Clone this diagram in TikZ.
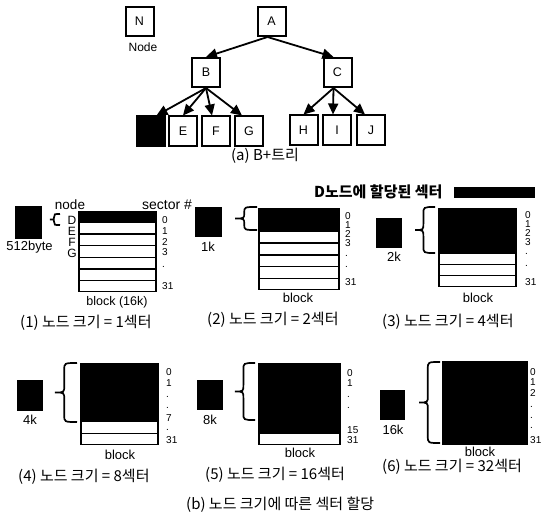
\documentclass[tikz,border=0pt]{standalone}
\usepackage{fontspec}
\setmainfont{Liberation Sans}
\newfontfamily\kr{Noto Sans CJK KR}
\usetikzlibrary{arrows.meta}
\newcommand\sectorblock[5]{%
  \fill[black] (#1,#2) rectangle (#3,#4);
  \pgfmathsetmacro\rh{(#4-#2)/7}
  \ifnum#5<7
    \foreach \i in {#5,...,6}{%
      \fill[white] ({#1+2},{#2+\i*\rh+0.7}) rectangle ({#3-2.2},{#2+(\i+1)*\rh-0.7});
    }
  \fi
}
\newcommand\curlyb[4]{%
  \pgfmathsetmacro\xm{#1+0.42*(#2-#1)}
  \pgfmathsetmacro\ym{(#3+#4)/2}
  \pgfmathsetmacro\cc{min(7,(#4-#3)/4)}
  \draw[bracestyle] (#2,#3) .. controls (\xm,#3) .. (\xm,{#3+\cc}) -- (\xm,{\ym-\cc})
    .. controls (\xm,\ym) .. (#1,\ym) .. controls (\xm,\ym) .. (\xm,{\ym+\cc})
    -- (\xm,{#4-\cc}) .. controls (\xm,#4) .. (#2,#4);
}
\begin{document}
\begin{tikzpicture}[x=1pt,y=-1pt,
  treenode/.style={draw, line width=2pt, minimum width=28pt, minimum height=29pt,
    inner sep=0pt, fill=white, font=\fontsize{12.5}{14}\selectfont},
  arr/.style={line width=1.8pt, -{Triangle[length=11pt,width=10pt]}},
  lbl/.style={inner sep=0pt, font=\fontsize{13}{15}\selectfont},
  num/.style={inner sep=0pt, anchor=west, font=\fontsize{10}{11}\selectfont},
  captxt/.style={inner sep=0pt, anchor=west, font=\kr\fontsize{15}{17}\selectfont},
  bracestyle/.style={line width=1.7pt},
  sq/.style={fill=black, draw=none, inner sep=0pt}]
\useasboundingbox (0,0) rectangle (543,524);

% ---------- (a) tree ----------
\node[treenode] (N) at (139.5,21.5) {N};
\node[lbl, font=\fontsize{12}{14}\selectfont] (nodelbl) at (143,47) {Node};
\node[treenode] (A) at (271.5,21.5) {A};
\node[treenode] (B) at (206,72.5) {B};
\node[treenode] (C) at (337.5,72.5) {C};
\node[treenode, fill=black] (D) at (150.5,131) {};
\node[treenode] (E) at (183,131) {E};
\node[treenode] (F) at (216,131) {F};
\node[treenode] (G) at (249,131) {G};
\node[treenode] (H) at (303.5,130) {H};
\node[treenode] (I) at (337,130) {I};
\node[treenode] (J) at (371,130) {J};
\draw[arr] ([xshift=-4pt]A.south) -- (B.north);
\draw[arr] ([xshift=-4pt]A.south) -- ([xshift=-4pt]C.north);
\draw[arr] (B.south) -- ([xshift=6pt]D.north);
\draw[arr] (B.south) -- (E.north);
\draw[arr] (B.south) -- ([xshift=-4pt]F.north);
\draw[arr] (B.south) -- ([xshift=-7pt]G.north);
\draw[arr] ([xshift=-4pt]C.south) -- (H.north);
\draw[arr] ([xshift=-4pt]C.south) -- ([xshift=-4pt]I.north);
\draw[arr] ([xshift=-4pt]C.south) -- ([xshift=-6pt]J.north);
\node[captxt, anchor=center] (capa) at (265,156) {(a) B+트리};

% ---------- legend ----------
\node[captxt, font=\kr\bfseries\fontsize{15}{17}\selectfont] (legend) at (314,192) {D노드에 할당된 섹터};
\fill[black] (454,187) rectangle (535,198);

% ---------- (1) ----------
\node[sq, minimum width=27pt, minimum height=33pt] (s1) at (28.5,222.5) {};
\node[lbl] (l1) at (29.5,247) {512byte};
\node[lbl, font=\fontsize{13.5}{15}\selectfont] (nodehdr) at (70,205) {node};
\node[lbl, anchor=west, font=\fontsize{14}{15}\selectfont] (sechdr) at (142,205) {sector \#};
\curlyb{50}{60}{214}{225}
\node[lbl, font=\fontsize{12}{13}\selectfont] (ld) at (72,220) {D};
\node[lbl, font=\fontsize{12}{13}\selectfont] (le) at (72,231) {E};
\node[lbl, font=\fontsize{12}{13}\selectfont] (lf) at (72,242) {F};
\node[lbl, font=\fontsize{12}{13}\selectfont] (lg) at (72,253) {G};
\sectorblock{78}{211}{157}{292}{1}
\foreach \t/\yy in {0/220,1/231,2/242,3/252,./267,31/286}{\node[num] at (162,\yy) {\t};}
\node[lbl, font=\fontsize{12.5}{14}\selectfont] (b1) at (117,302) {block (16k)};
\node[captxt] (c1) at (20,323) {(1) 노드 크기 = 1섹터};

% ---------- (2) ----------
\node[sq, minimum width=27pt, minimum height=30pt] (s2) at (208.5,222) {};
\node[lbl] (l2) at (208,247) {1k};
\curlyb{235}{257}{207}{230}
\sectorblock{258}{208}{340}{290}{2}
\foreach \t/\yy in {0/216,1/225,2/234,3/243,./256,./267,31/282}{\node[num] at (345,\yy) {\t};}
\node[lbl] (b2) at (298,298) {block};
\node[captxt] (c2) at (207,320) {(2) 노드 크기 = 2섹터};

% ---------- (3) ----------
\node[sq, minimum width=26pt, minimum height=30pt] (s3) at (389,233) {};
\node[lbl] (l3) at (394,257) {2k};
\curlyb{415}{435}{207}{253}
\sectorblock{438}{208}{517}{287}{4}
\foreach \t/\yy in {0/215,1/224,2/233,3/242,./254,./266,31/282}{\node[num] at (525,\yy) {\t};}
\node[lbl] (b3) at (478,298) {block};
\node[captxt] (c3) at (382,322) {(3) 노드 크기 = 4섹터};

% ---------- (4) ----------
\node[sq, minimum width=26pt, minimum height=31pt] (s4) at (30,395.5) {};
\node[lbl] (l4) at (30,420) {4k};
\curlyb{55}{77}{363}{422}
\sectorblock{80}{363}{159}{445}{5}
\foreach \t/\yy in {0/372,1/383,./397,./408,7/418,./430,31/440}{\node[num] at (166,\yy) {\t};}
\node[lbl] (b4) at (120,455) {block};
\node[captxt] (c4) at (18,477) {(4) 노드 크기 = 8섹터};

% ---------- (5) ----------
\node[sq, minimum width=26pt, minimum height=30pt] (s5) at (210,395) {};
\node[lbl] (l5) at (210,420) {8k};
\curlyb{235}{255}{363}{420}
\sectorblock{258}{363}{341}{445}{6}
\foreach \t/\yy in {0/373,1/383,./397,./408,15/430,31/440}{\node[num] at (347,\yy) {\t};}
\node[lbl] (b5) at (300,453) {block};
\node[captxt] (c5) at (205,475) {(5) 노드 크기 = 16섹터};

% ---------- (6) ----------
\node[sq, minimum width=25pt, minimum height=30pt] (s6) at (392.5,405) {};
\node[lbl] (l6) at (393,430) {16k};
\curlyb{419}{440}{362}{443}
\sectorblock{442}{361}{528}{445}{7}
\foreach \t/\yy in {0/372,1/382,2/393,./407,./418,./428,31/440}{\node[num] at (530,\yy) {\t};}
\node[lbl] (b6) at (480,452) {block};
\node[captxt] (c6) at (382,467) {(6) 노드 크기 = 32섹터};

\node[captxt] (capb) at (186,505) {(b) 노드 크기에 따른 섹터 할당};
\end{tikzpicture}
\end{document}
